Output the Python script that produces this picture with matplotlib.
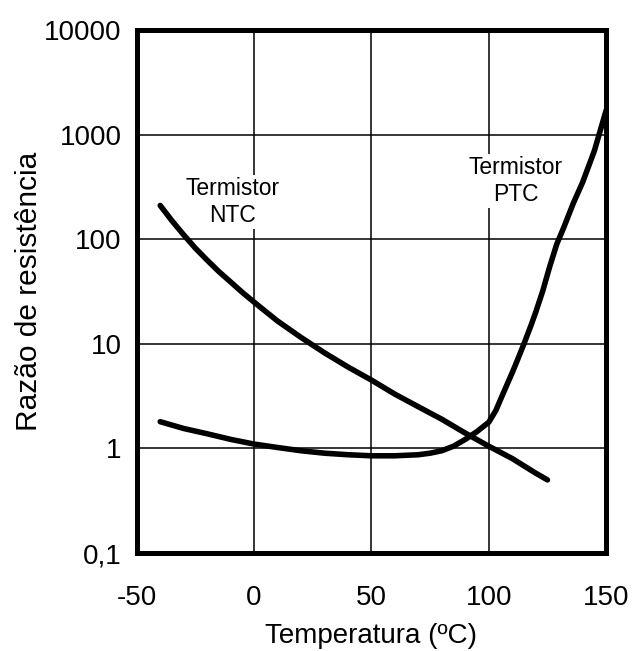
import matplotlib
matplotlib.use("Agg")
import matplotlib.pyplot as plt

plt.rcParams['font.family'] = ['Liberation Sans', 'DejaVu Sans']
plt.rcParams['axes.unicode_minus'] = False

# NTC thermistor
ntc_t = [-40, -35, -30, -25, -20, -15, -10, -5, 0, 10, 20, 30, 40, 50, 60, 70, 80, 90, 100, 110, 120, 125]
ntc_r = [210, 150, 110, 82, 63, 49, 39, 31, 25, 16.5, 11.5, 8.2, 6.0, 4.5, 3.3, 2.5, 1.9, 1.4, 1.05, 0.8, 0.58, 0.5]

# PTC thermistor
ptc_t = [-40, -30, -20, -10, 0, 10, 20, 30, 40, 50, 60, 70, 75, 80, 85, 90, 95, 100, 103, 106, 110, 112,
         115, 118, 120, 123, 126, 129, 132, 136, 140, 145, 150]
ptc_r = [1.8, 1.55, 1.38, 1.22, 1.1, 1.02, 0.95, 0.9, 0.87, 0.85, 0.85, 0.87, 0.9, 0.95, 1.05, 1.22, 1.45, 1.78,
         2.3, 3.3, 5.3, 6.8, 10, 15, 20, 32, 55, 90, 130, 220, 350, 700, 1700]

x_ticks = [-50, 0, 50, 100, 150]
y_ticks = [0.1, 1, 10, 100, 1000, 10000]
y_labels = ["0,1", "1", "10", "100", "1000", "10000"]

fig = plt.figure(figsize=(6.36, 6.51), dpi=100)
ax = fig.add_axes([0.215, 0.1505, 0.738, 0.8035])

ax.plot(ntc_t, ntc_r, color="black", lw=4, solid_capstyle="round", solid_joinstyle="round")
ax.plot(ptc_t, ptc_r, color="black", lw=4, solid_capstyle="round", solid_joinstyle="round")

ax.set_yscale("log")
ax.set_xlim(-50, 150)
ax.set_ylim(0.1, 10000)
ax.set_xticks(x_ticks)
ax.set_yticks(y_ticks)
ax.set_yticklabels(y_labels)
ax.minorticks_off()
ax.tick_params(length=0, labelsize=20, pad=11)
ax.tick_params(axis="x", pad=23)
ax.grid(True, color="black", lw=1.1)

for s in ax.spines.values():
    s.set_linewidth(3.6)

ax.set_xlabel("Temperatura (ºC)", fontsize=20, labelpad=9)
ax.set_ylabel("Razão de resistência", fontsize=21.5, labelpad=1)

ax.text(-9, 227, "Termistor\nNTC", ha="center", va="center", fontsize=16.5, linespacing=1.25,
        bbox=dict(facecolor="white", edgecolor="none", pad=1))
ax.text(111.5, 360, "Termistor\nPTC", ha="center", va="center", fontsize=16.5, linespacing=1.25,
        bbox=dict(facecolor="white", edgecolor="none", pad=1))

fig.savefig("out.png", dpi=100)
